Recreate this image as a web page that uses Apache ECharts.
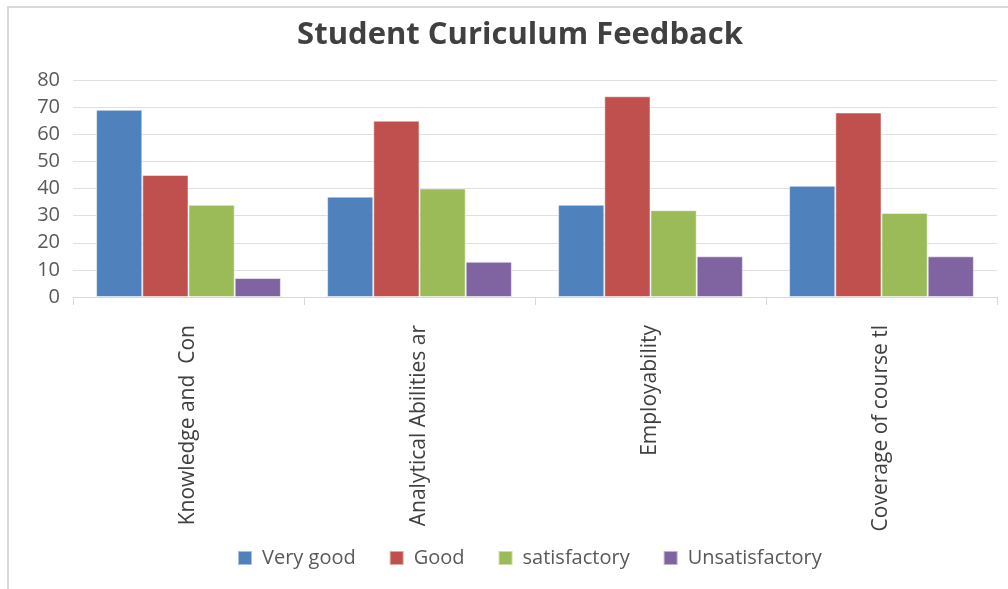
<!DOCTYPE html>
<html><head><meta charset="utf-8">
<script src="https://cdn.jsdelivr.net/npm/echarts@6/dist/echarts.min.js"></script>
<style>
html,body{margin:0;padding:0;background:#fff;}
#frame{position:absolute;left:7px;top:6px;width:1100px;height:700px;border-left:2px solid #d9d9d9;border-top:2px solid #d9d9d9;}
#c{position:absolute;left:0;top:0;width:1008px;height:589px;}
</style></head>
<body>
<div id="frame"></div>
<div id="c"></div>
<script>
const categories = ['Knowledge and  Con', 'Analytical Abilities ar', 'Employability', 'Coverage of course tl'];
const seriesNames = ['Very good', 'Good', 'satisfactory', 'Unsatisfactory'];
const veryGood = [69, 37, 34, 41];
const good = [45, 65, 74, 68];
const satisfactory = [34, 40, 32, 31];
const unsatisfactory = [7, 13, 15, 15];
const colors = ['#4F81BD', '#C0504D', '#9BBB59', '#8064A2'];
const values = [veryGood, good, satisfactory, unsatisfactory];

const chart = echarts.init(document.getElementById('c'), null, {renderer: 'canvas'});
const font = '"Open Sans", "Liberation Sans", sans-serif';
chart.setOption({
  animation: false,
  color: colors,
  title: {
    text: 'Student Curiculum Feedback',
    left: 515, top: 15, textAlign: 'center',
    textStyle: {fontFamily: font, fontSize: 31, fontWeight: 'bold', color: '#404040'}
  },
  legend: {
    bottom: 16, left: 232, padding: 5,
    itemWidth: 14, itemHeight: 14, itemGap: 33,
    icon: 'rect',
    textStyle: {fontFamily: font, fontSize: 20, color: '#595959', padding: [0,0,0,5]},
    data: seriesNames
  },
  grid: {left: 73, right: 11, top: 80, bottom: 292, containLabel: false},
  xAxis: {
    type: 'category', data: categories,
    axisLine: {lineStyle: {color: '#d9d9d9', width: 1}},
    axisTick: {show: true, length: 8, lineStyle: {color: '#d9d9d9'}},
    axisLabel: {rotate: 90, margin: 28, fontFamily: font, fontSize: 21, color: '#404040'}
  },
  yAxis: {
    type: 'value', min: 0, max: 80, interval: 10,
    axisLine: {show: false}, axisTick: {show: false},
    splitLine: {lineStyle: {color: '#e0e0e0', width: 1}},
    axisLabel: {margin: 13, fontFamily: font, fontSize: 20, color: '#595959'}
  },
  series: seriesNames.map((n, i) => ({
    name: n, type: 'bar', data: values[i],
    barGap: '0%', barCategoryGap: '20%',
    itemStyle: {color: colors[i], borderColor: 'rgba(255,255,255,0.5)', borderWidth: 1}
  }))
});
</script>
</body></html>
